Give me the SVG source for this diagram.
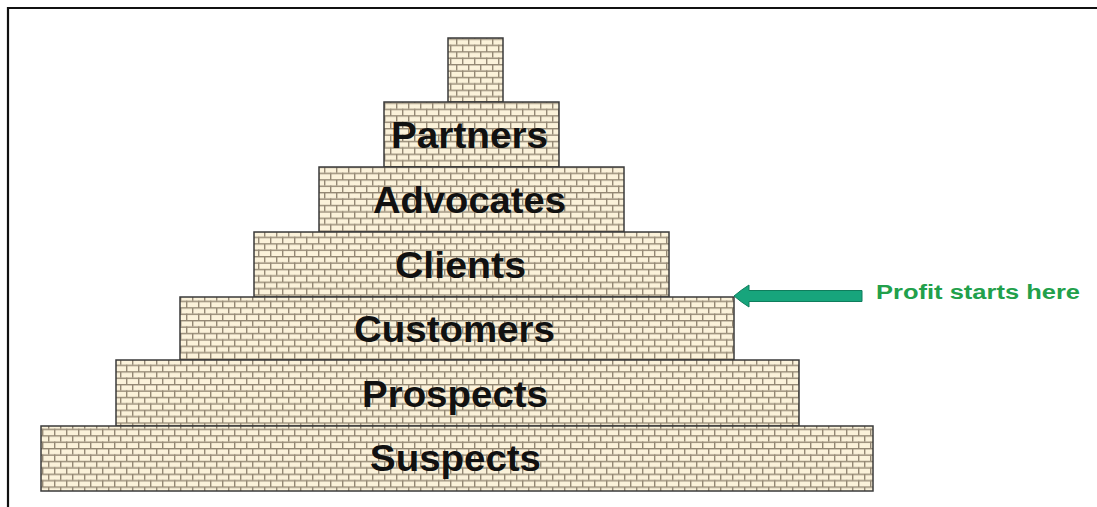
<svg xmlns="http://www.w3.org/2000/svg" width="1097" height="507" viewBox="0 0 1097 507">
  <defs>
    <pattern id="brick" width="12" height="12.8" patternUnits="userSpaceOnUse">
      <rect width="12" height="12.8" fill="#fbf2da"/>
      <rect x="0" y="0" width="12" height="1.4" fill="#948874"/>
      <rect x="0" y="6.4" width="12" height="1.4" fill="#948874"/>
      <rect x="0" y="0" width="1.4" height="6.4" fill="#948874"/>
      <rect x="6" y="6.4" width="1.4" height="6.4" fill="#948874"/>
    </pattern>
    <style>
      .tier { fill: url(#brick); stroke: #3a3a3a; stroke-width: 1.5; }
      .lbl { font-family: "Liberation Sans", Arial, sans-serif; font-weight: bold; font-size: 36px; fill: #111; text-anchor: middle; }
      .note { font-family: "Liberation Sans", Arial, sans-serif; font-weight: bold; font-size: 20px; fill: #22a04b; }
    </style>
  </defs>
  <rect width="1097" height="507" fill="#ffffff"/>
  <path d="M8 507 V8 H1097" fill="none" stroke="#111" stroke-width="2.2"/>

  <g id="top"><rect class="tier" x="448" y="38" width="55" height="64"/></g>
  <g id="partners"><rect class="tier" x="384" y="102" width="175" height="65"/>
    <text class="lbl" x="469.5" y="148" textLength="157" lengthAdjust="spacingAndGlyphs">Partners</text></g>
  <g id="advocates"><rect class="tier" x="319" y="167" width="305" height="65"/>
    <text class="lbl" x="469.5" y="213" textLength="193" lengthAdjust="spacingAndGlyphs">Advocates</text></g>
  <g id="clients"><rect class="tier" x="254" y="232" width="415" height="65"/>
    <text class="lbl" x="460.5" y="278" textLength="131" lengthAdjust="spacingAndGlyphs">Clients</text></g>
  <g id="customers"><rect class="tier" x="180" y="297" width="554" height="63"/>
    <text class="lbl" x="454.5" y="342" textLength="201" lengthAdjust="spacingAndGlyphs">Customers</text></g>
  <g id="prospects"><rect class="tier" x="116" y="360" width="683" height="66"/>
    <text class="lbl" x="455" y="407" textLength="186" lengthAdjust="spacingAndGlyphs">Prospects</text></g>
  <g id="suspects"><rect class="tier" x="41" y="426" width="832" height="65"/>
    <text class="lbl" x="455.5" y="471" textLength="171" lengthAdjust="spacingAndGlyphs">Suspects</text></g>

  <g id="connectors">
    <path d="M734 296 Q741 290 749 285 L749 290.5 L862 290.5 L862 301.5 L749 301.5 L749 307 Q741 302 734 296 Z" fill="#17a57c" stroke="#0f7d5c" stroke-width="1"/>
  </g>
  <g id="note"><text class="note" x="876" y="299" textLength="204" lengthAdjust="spacingAndGlyphs">Profit starts here</text></g>
</svg>
